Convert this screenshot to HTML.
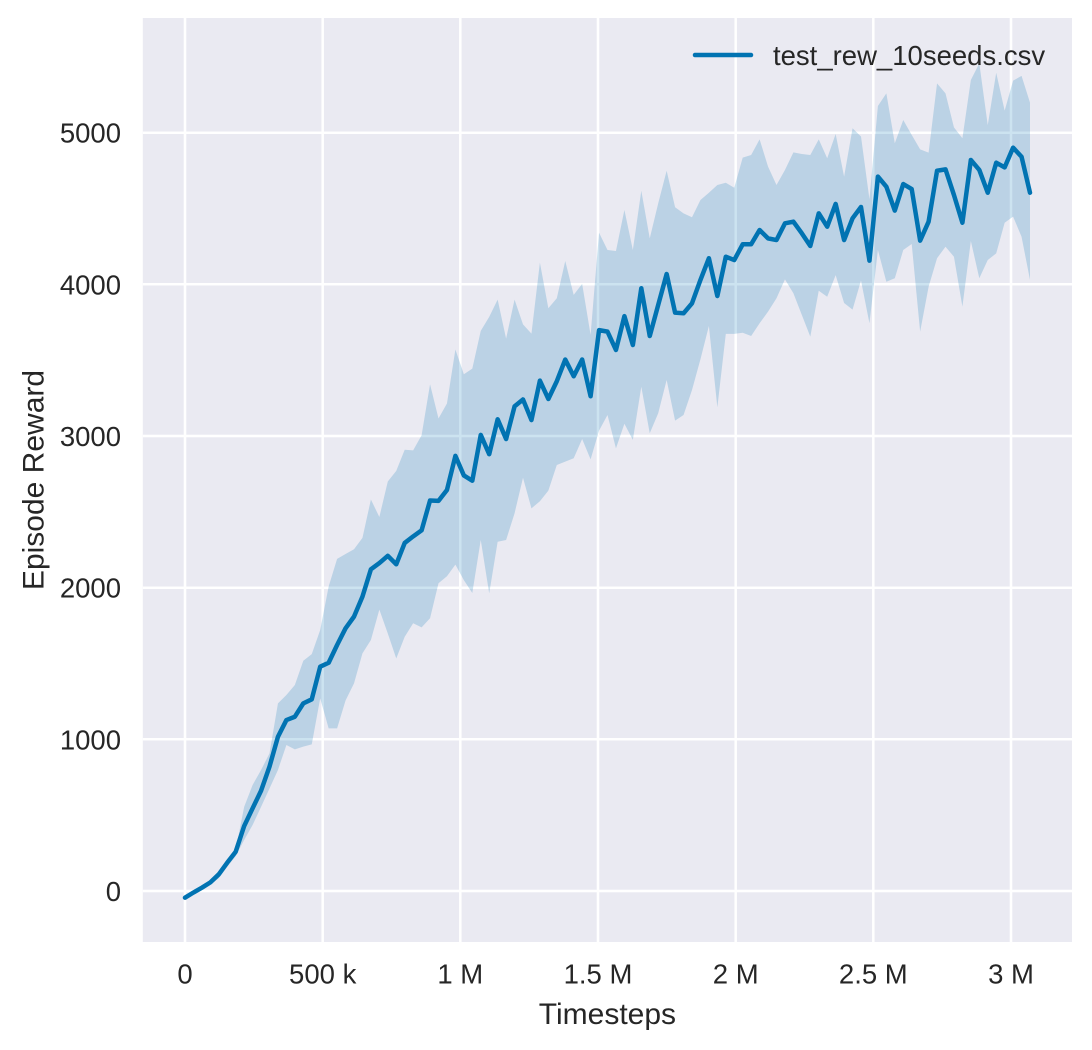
<!DOCTYPE html>
<html>
<head>
<meta charset="utf-8">
<style>
html,body{margin:0;padding:0;background:#ffffff;}
svg{display:block;}
text{font-family:"Liberation Sans",Arial,sans-serif;fill:#262626;}
</style>
</head>
<body>
<svg width="1092" height="1050" viewBox="0 0 1092 1050" xmlns="http://www.w3.org/2000/svg">
<rect x="0" y="0" width="1092" height="1050" fill="#ffffff"/>
<defs>
<clipPath id="pa"><rect x="142.8" y="18" width="929.2" height="924"/></clipPath>
</defs>
<!-- plot background -->
<rect x="142.8" y="18" width="929.2" height="924" fill="#EAEAF2"/>
<!-- grid -->
<g stroke="#ffffff" stroke-width="2.5">
<line x1="185" y1="18" x2="185" y2="942"/>
<line x1="322.7" y1="18" x2="322.7" y2="942"/>
<line x1="460.3" y1="18" x2="460.3" y2="942"/>
<line x1="598" y1="18" x2="598" y2="942"/>
<line x1="735.7" y1="18" x2="735.7" y2="942"/>
<line x1="873.3" y1="18" x2="873.3" y2="942"/>
<line x1="1011" y1="18" x2="1011" y2="942"/>
<line x1="142.8" y1="891" x2="1072" y2="891"/>
<line x1="142.8" y1="739.3" x2="1072" y2="739.3"/>
<line x1="142.8" y1="587.7" x2="1072" y2="587.7"/>
<line x1="142.8" y1="436" x2="1072" y2="436"/>
<line x1="142.8" y1="284.3" x2="1072" y2="284.3"/>
<line x1="142.8" y1="132.7" x2="1072" y2="132.7"/>
</g>
<g clip-path="url(#pa)">
<g transform="translate(185 891) scale(8.45 -0.15167)">
<polygon fill="#0173B2" fill-opacity="0.2" stroke="none" points="0,-38 1,-2 2,32 3,72 4,130 5,205 6,272 7,555 8,699 9,798 10,907 11,1237 12,1292 13,1358 14,1518 15,1562 16,1721 17,2008 18,2190 19,2222 20,2253 21,2328 22,2581 23,2466 24,2700 25,2770 26,2909 27,2905 28,3005 29,3341 30,3115 31,3214 32,3570 33,3407 34,3444 35,3693 36,3785 37,3899 38,3642 39,3899 40,3736 41,3675 42,4143 43,3842 44,3908 45,4154 46,3930 47,4003 48,3667 49,4340 50,4226 51,4220 52,4490 53,4226 54,4617 55,4303 56,4534 57,4749 58,4508 59,4468 60,4442 61,4556 62,4604 63,4655 64,4670 65,4637 66,4835 67,4853 68,4956 69,4776 70,4655 71,4754 72,4870 73,4859 74,4853 75,4956 76,4831 77,4991 78,4710 79,5029 80,4975 81,4561 82,5176 83,5259 84,4930 85,5083 86,4985 87,4890 88,4868 89,5325 90,5259 91,5035 92,4963 93,5347 94,5457 95,5050 96,5395 97,5145 98,5343 99,5374 100,5198 100,4029 99,4314 98,4446 97,4406 96,4204 95,4160 94,4040 93,4286 92,3853 91,4182 90,4248 89,4172 88,3984 87,3688 86,4266 85,4226 84,4040 83,4017 82,4226 81,3743 80,4025 79,3833 78,3877 77,4061 76,3918 75,3958 74,3655 73,3798 72,3941 71,4033 70,3908 69,3820 68,3743 67,3659 66,3681 65,3673 64,3673 63,3189 62,3725 61,3506 60,3303 59,3138 58,3101 57,3369 56,3150 55,3018 54,3325 53,2974 52,3081 51,2918 50,3138 49,3035 48,2846 47,2980 46,2853 45,2831 44,2809 43,2640 42,2570 41,2523 40,2725 39,2490 38,2314 37,2303 36,1962 35,2314 34,1965 33,2050 32,2152 31,2075 30,2029 29,1798 28,1738 27,1765 26,1676 25,1533 24,1698 23,1855 22,1655 21,1567 20,1369 19,1256 18,1072 17,1072 16,1270 15,967 14,952 13,934 12,963 11,798 10,676 9,555 8,435 7,336 6,230 5,160 4,84 3,42 2,12 1,-18 0,-50"/>
<polyline fill="none" stroke="#0173B2" stroke-width="4.5" stroke-linejoin="round" stroke-linecap="round" vector-effect="non-scaling-stroke" points="0,-44 1,-10 2,22 3,57 4,110 5,187 6,259 7,428 8,545 9,661 10,820 11,1017 12,1127 13,1149 14,1237 15,1264 16,1479 17,1505 18,1622 19,1732 20,1809 21,1941 22,2121 23,2162 24,2210 25,2154 26,2295 27,2338 28,2378 29,2575 30,2572 31,2644 32,2869 33,2740 34,2705 35,3007 36,2880 37,3110 38,2980 39,3195 40,3241 41,3105 42,3365 43,3244 44,3361 45,3504 46,3394 47,3504 48,3262 49,3698 50,3688 51,3567 52,3790 53,3600 54,3974 55,3659 56,3864 57,4068 58,3813 59,3809 60,3875 61,4029 62,4172 63,3923 64,4182 65,4160 66,4264 67,4264 68,4358 69,4303 70,4292 71,4402 72,4413 73,4336 74,4253 75,4468 76,4380 77,4530 78,4292 79,4435 80,4510 81,4156 82,4710 83,4644 84,4486 85,4661 86,4628 87,4288 88,4413 89,4749 90,4758 91,4589 92,4406 93,4820 94,4754 95,4604 96,4802 97,4771 98,4901 99,4841 100,4604"/>
</g>
</g>
<!-- y tick labels -->
<g font-size="27.5" text-anchor="end">
<text x="121" y="901">0</text>
<text x="121" y="749.3">1000</text>
<text x="121" y="597.7">2000</text>
<text x="121" y="446">3000</text>
<text x="121" y="294.3">4000</text>
<text x="121" y="142.7">5000</text>
</g>
<!-- x tick labels -->
<g font-size="27.5" text-anchor="middle">
<text x="185" y="983.5">0</text>
<text x="322.7" y="983.5">500 k</text>
<text x="460.3" y="983.5">1 M</text>
<text x="598" y="983.5">1.5 M</text>
<text x="735.7" y="983.5">2 M</text>
<text x="873.3" y="983.5">2.5 M</text>
<text x="1011" y="983.5">3 M</text>
</g>
<!-- axis labels -->
<text x="607.4" y="1024" font-size="30" text-anchor="middle">Timesteps</text>
<text transform="translate(43.5 480) rotate(-90)" font-size="30" text-anchor="middle">Episode Reward</text>
<!-- legend -->
<line x1="695" y1="55" x2="751" y2="55" stroke="#0173B2" stroke-width="4.5" stroke-linecap="round"/>
<text x="773" y="65" font-size="27.5">test_rew_10seeds.csv</text>
</svg>
</body>
</html>
